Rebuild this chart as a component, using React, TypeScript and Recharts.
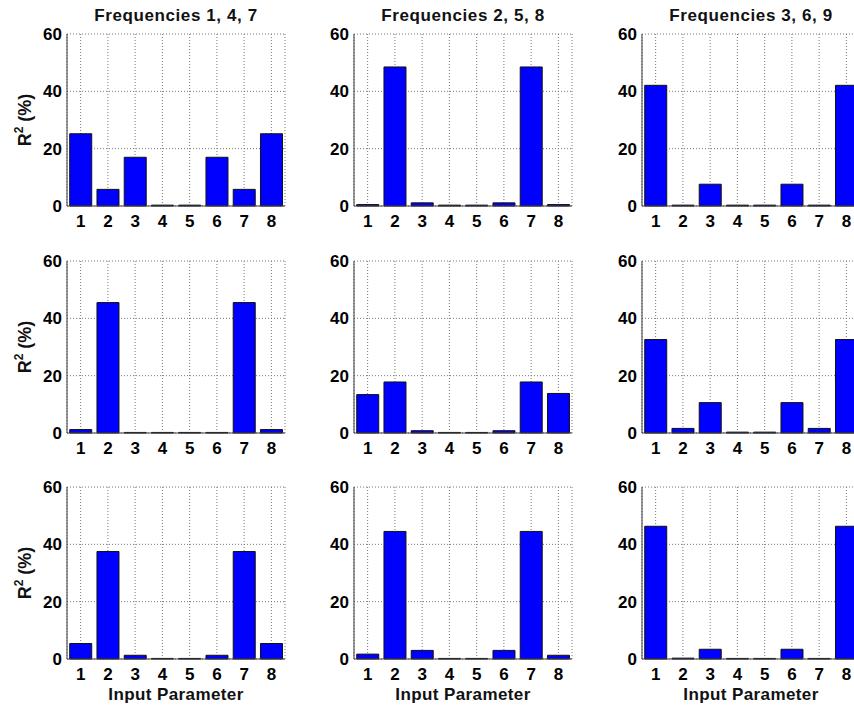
import React from "react";
import {
  BarChart,
  Bar,
  XAxis,
  YAxis,
  CartesianGrid,
} from "recharts";

// Input parameter indices along the x axis
const parameters = ["1", "2", "3", "4", "5", "6", "7", "8"];

// R² (%) per input parameter, one array per frequency
const freq1 = [25.2, 5.8, 17.0, 0.3, 0.3, 17.0, 5.8, 25.2];
const freq2 = [0.5, 48.5, 1.1, 0.3, 0.3, 1.1, 48.5, 0.5];
const freq3 = [42.1, 0.3, 7.6, 0.3, 0.3, 7.6, 0.3, 42.1];
const freq4 = [1.2, 45.5, 0.2, 0.2, 0.2, 0.2, 45.5, 1.2];
const freq5 = [13.4, 17.8, 0.8, 0.2, 0.2, 0.8, 17.8, 13.8];
const freq6 = [32.6, 1.6, 10.6, 0.3, 0.3, 10.6, 1.6, 32.6];
const freq7 = [5.4, 37.5, 1.3, 0.2, 0.2, 1.3, 37.5, 5.4];
const freq8 = [1.7, 44.5, 3.0, 0.2, 0.2, 3.0, 44.5, 1.3];
const freq9 = [46.3, 0.3, 3.4, 0.2, 0.2, 3.4, 0.2, 46.3];

const columnTitles = ["Frequencies 1, 4, 7", "Frequencies 2, 5, 8", "Frequencies 3, 6, 9"];
const yTicks = [0, 20, 40, 60];

// rows x columns
const panels = [
  [freq1, freq2, freq3],
  [freq4, freq5, freq6],
  [freq7, freq8, freq9],
];

const FONT = '"Liberation Sans", Arial, Helvetica, sans-serif';
const PLOT_LEFT = [67, 354, 642];
const PLOT_TOP = [34, 261, 487];
const PLOT_W = 218;
const PLOT_H = 172;
const Y_AXIS_W = 60;
const M_TOP = 10;
const M_RIGHT = 10;
const X_AXIS_H = 32;

const tickStyle = { fill: "#000", fontSize: 17, fontWeight: 700, fontFamily: FONT };

function Panel({ values }: { values: number[] }) {
  const data = parameters.map((p, i) => ({ param: p, r2: values[i] }));
  return (
    <BarChart
      width={Y_AXIS_W + PLOT_W + M_RIGHT}
      height={M_TOP + PLOT_H + X_AXIS_H}
      data={data}
      margin={{ top: M_TOP, right: M_RIGHT, bottom: 0, left: 0 }}
      barCategoryGap="10%"
    >
      <CartesianGrid stroke="#777" strokeDasharray="1 2" horizontal vertical />
      <XAxis
        dataKey="param"
        height={X_AXIS_H}
        tickLine={false}
        tickSize={0}
        tickMargin={9}
        axisLine={{ stroke: "#444", strokeWidth: 1.2 }}
        tick={tickStyle}
        interval={0}
      />
      <XAxis
        xAxisId="top"
        dataKey="param"
        orientation="top"
        height={0}
        tick={false}
        tickLine={false}
        axisLine={{ stroke: "#999", strokeWidth: 1.6 }}
      />
      <YAxis
        domain={[0, 60]}
        ticks={yTicks}
        width={Y_AXIS_W}
        tickLine={false}
        tickSize={0}
        tickMargin={5}
        axisLine={{ stroke: "#555", strokeWidth: 1.2 }}
        tick={tickStyle}
        interval={0}
      />
      <YAxis
        yAxisId="right"
        orientation="right"
        domain={[0, 60]}
        width={0}
        tick={false}
        tickLine={false}
        axisLine={{ stroke: "#999", strokeWidth: 1.6 }}
      />
      <Bar
        dataKey="r2"
        fill="#0000ff"
        stroke="#111"
        strokeWidth={1}
        isAnimationActive={false}
      />
    </BarChart>
  );
}

export default function App() {
  return (
    <div
      style={{
        position: "absolute",
        left: 0,
        top: 0,
        width: 854,
        height: 708,
        overflow: "hidden",
        background: "#fff",
        fontFamily: FONT,
      }}
    >
      {columnTitles.map((t, c) => (
        <div
          key={t}
          style={{
            position: "absolute",
            left: PLOT_LEFT[c] - 20,
            width: PLOT_W + 40,
            top: 6,
            textAlign: "center",
            fontSize: 17,
            lineHeight: "19px",
            fontWeight: 700,
            letterSpacing: 0.6,
            color: "#111",
            whiteSpace: "nowrap",
          }}
        >
          {t}
        </div>
      ))}

      {panels.map((row, r) =>
        row.map((values, c) => (
          <div
            key={`${r}-${c}`}
            style={{
              position: "absolute",
              left: PLOT_LEFT[c] - Y_AXIS_W,
              top: PLOT_TOP[r] - M_TOP,
            }}
          >
            <Panel values={values} />
          </div>
        ))
      )}

      {PLOT_TOP.map((top, r) => (
        <div
          key={`ylab-${r}`}
          style={{
            position: "absolute",
            left: 25,
            top: top + PLOT_H / 2,
            transform: "translate(-50%, -50%) rotate(-90deg)",
            fontSize: 18,
            fontWeight: 700,
            lineHeight: "20px",
            color: "#111",
            whiteSpace: "nowrap",
          }}
        >
          R<sup style={{ fontSize: 12, verticalAlign: "8px", lineHeight: 0 }}>2</sup> (%)
        </div>
      ))}

      {PLOT_LEFT.map((left, c) => (
        <div
          key={`xlab-${c}`}
          style={{
            position: "absolute",
            left: left - 20,
            width: PLOT_W + 40,
            top: 685,
            textAlign: "center",
            fontSize: 17,
            lineHeight: "19px",
            fontWeight: 700,
            letterSpacing: 0.4,
            color: "#111",
            whiteSpace: "nowrap",
          }}
        >
          Input Parameter
        </div>
      ))}
    </div>
  );
}
